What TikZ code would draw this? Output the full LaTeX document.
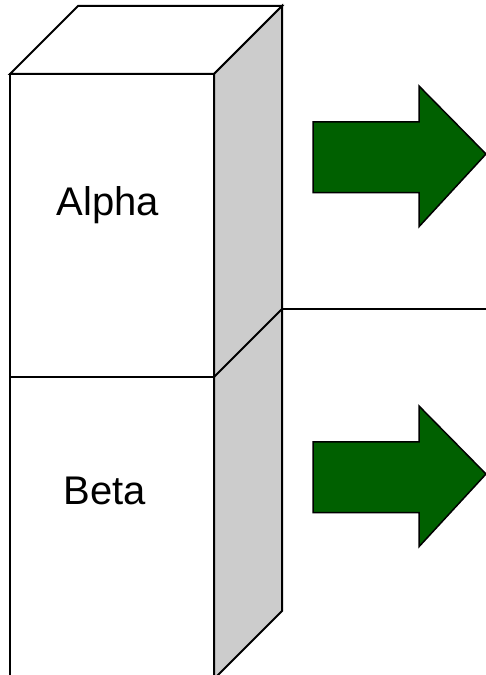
\documentclass[tikz,border=0pt]{standalone}
\usepackage{fontspec}
\setmainfont{Liberation Sans}
\usepackage{xcolor}
\definecolor{BlockGray}{HTML}{CCCCCC}
\definecolor{ArrowGreen}{HTML}{006000}
\begin{document}
\begin{tikzpicture}[x=1pt, y=1pt, line join=miter,
    edge/.style={draw=black, line width=2pt},
    arrowshape/.style={fill=ArrowGreen, draw=black, line width=1.5pt},
    label/.style={font=\fontsize{40}{48}\selectfont, anchor=base}]
    \useasboundingbox (0,0) rectangle (486,675);
    \clip (0,0) rectangle (486,675);
    % Top face
    \draw[edge, fill=white] (10,601) -- (78,669) -- (282,669) -- (214,601) -- cycle;
    % Side face (shaded)
    \draw[edge, fill=BlockGray] (214,601) -- (282,669) -- (282,64) -- (214,-4) -- cycle;
    \draw[edge] (214,298) -- (282,366);
    % Front faces
    \draw[edge, fill=white] (10,298) rectangle (214,601);
    \draw[edge, fill=white] (10,-10) rectangle (214,298);
    % Divider line
    \coordinate (split) at (282,366);
    \coordinate (rim) at (486,366);
    \draw[edge] (split) -- (rim);
    % Labels
    \node[label] (alpha) at (108,459) {Alpha};
    \node[label] (beta) at (105,170) {Beta};
    % Arrows
    \draw[arrowshape] (313,553) -- (419,553) -- (419,589) -- (486,521)
        -- (419,448.3) -- (419,482.3) -- (313,482.3) -- cycle;
    \draw[arrowshape] (313,233) -- (419,233) -- (419,269) -- (486,201)
        -- (419,128.3) -- (419,162.3) -- (313,162.3) -- cycle;
\end{tikzpicture}
\end{document}
